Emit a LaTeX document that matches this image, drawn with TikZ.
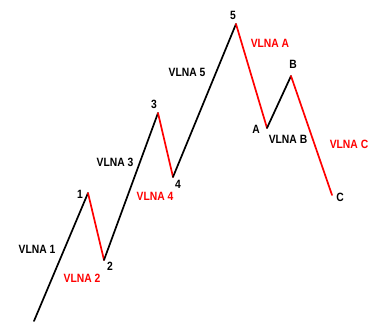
\documentclass[tikz,border=0pt]{standalone}
\usepackage{fontspec}
\setmainfont{Liberation Sans}
\newcommand{\lbl}[1]{\scalebox{0.86}[1]{\bfseries #1}}
\begin{document}
\begin{tikzpicture}[x=1pt,y=-1pt,
  wave/.style={line width=1.7pt,line cap=round,line join=round},
  up/.style={wave,black},
  down/.style={wave,red},
  lab/.style={inner sep=0pt,font=\fontsize{12}{12}\selectfont},
  blk/.style={lab,text=black},
  rd/.style={lab,text=red}]
\useasboundingbox (0,0) rectangle (379,322);
\coordinate (p0) at (34,321);
\coordinate (p1) at (88,193);
\coordinate (p2) at (104,260);
\coordinate (p3) at (158,113);
\coordinate (p4) at (173,177);
\coordinate (p5) at (236,24);
\coordinate (pA) at (267,128);
\coordinate (pB) at (291,76);
\coordinate (pC) at (332,195);
\draw[up] (p0) -- (p1);
\draw[down] (p1) -- (p2);
\draw[up] (p2) -- (p3);
\draw[down] (p3) -- (p4);
\draw[up] (p4) -- (p5);
\draw[down] (p5) -- (pA);
\draw[up] (pA) -- (pB);
\draw[down] (pB) -- (pC);
\node[blk] (n1) at (80,194) {\lbl{1}};
\node[blk] (n2) at (110,266) {\lbl{2}};
\node[blk] (n3) at (154,104) {\lbl{3}};
\node[blk] (n4) at (178,184) {\lbl{4}};
\node[blk] (n5) at (233,15) {\lbl{5}};
\node[blk] (nA) at (256,129) {\lbl{A}};
\node[blk] (nB) at (293,64) {\lbl{B}};
\node[blk] (nC) at (340,197) {\lbl{C}};
\node[blk] (v1) at (37,249) {\lbl{VLNA 1}};
\node[rd] (v2) at (82,278) {\lbl{VLNA 2}};
\node[blk] (v3) at (115,162) {\lbl{VLNA 3}};
\node[rd] (v4) at (155,196) {\lbl{VLNA 4}};
\node[blk] (v5) at (187,72) {\lbl{VLNA 5}};
\node[rd] (vA) at (270,43) {\lbl{VLNA A}};
\node[blk] (vB) at (288,139) {\lbl{VLNA B}};
\node[rd] (vC) at (349,144) {\lbl{VLNA C}};
\end{tikzpicture}
\end{document}
